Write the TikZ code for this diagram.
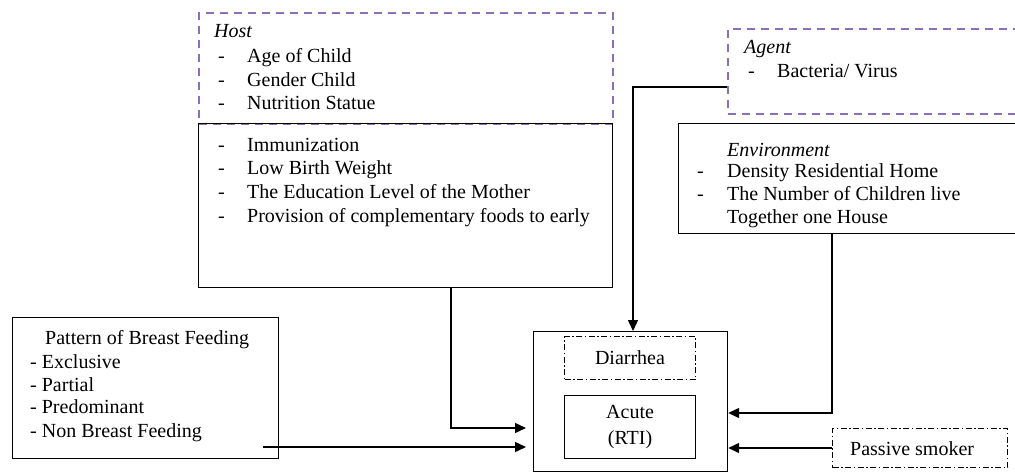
\documentclass[tikz,border=0pt]{standalone}
\usepackage{fontspec}
\setmainfont{Liberation Serif}
\usetikzlibrary{arrows.meta}
\definecolor{lav}{RGB}{140,110,185}
\begin{document}
\begin{tikzpicture}[x=1pt,y=-1pt,
 box/.style={draw,line width=1.2pt,inner sep=0,anchor=north west},
 pbox/.style={draw=lav,line width=1.5pt,dash pattern=on 8pt off 6pt,inner sep=0,anchor=north west},
 dbox/.style={draw,line width=1pt,dash pattern=on 6pt off 2.5pt on 1.5pt off 2.5pt,inner sep=0,anchor=north west},
 txt/.style={anchor=base west,inner sep=0,font=\fontsize{20}{24}\selectfont},
 ctxt/.style={inner sep=0,align=center,font=\fontsize{20}{26}\selectfont},
 arr/.style={line width=1.4pt,-{Triangle[length=11pt,width=10pt]}}]
\clip (0,0) rectangle (1015,472);
% boxes
\node[pbox,minimum width=414pt,minimum height=111pt] (hosta) at (198,12) {};
\node[box,minimum width=414pt,minimum height=164pt] (hostb) at (198,123) {};
\node[pbox,minimum width=300pt,minimum height=85pt] (agent) at (727,28) {};
\node[box,minimum width=350pt,minimum height=110pt] (env) at (678,123) {};
\node[box,minimum width=194pt,minimum height=140pt] (main) at (533,331) {};
\node[dbox,minimum width=131pt,minimum height=43pt] (diar) at (564,336) {};
\node[box,minimum width=131pt,minimum height=63pt] (acute) at (564,395) {};
\node[dbox,minimum width=175pt,minimum height=39pt] (ps) at (832,428) {};
\node[box,minimum width=266pt,minimum height=141pt] (bf) at (12,317) {};
% host texts
\node[txt] (th) at (214,37) {\itshape Host};
\node[txt] (th1d) at (218,62) {-};
\node[txt] (th1) at (247,62) {Age of Child};
\node[txt] (th2d) at (218,86) {-};
\node[txt] (th2) at (247,86) {Gender Child};
\node[txt] (th3d) at (218,109) {-};
\node[txt] (th3) at (247,109) {Nutrition Statue};
\node[txt] (th4d) at (218,151) {-};
\node[txt] (th4) at (247,151) {Immunization};
\node[txt] (th5d) at (218,174) {-};
\node[txt] (th5) at (247,174) {Low Birth Weight};
\node[txt] (th6d) at (218,198) {-};
\node[txt] (th6) at (247,198) {The Education Level of the Mother};
\node[txt] (th7d) at (218,222) {-};
\node[txt] (th7) at (247,222) {Provision of complementary foods to early};
% agent
\node[txt] (ta) at (744,53) {\itshape Agent};
\node[txt] (ta1d) at (748,77) {-};
\node[txt] (ta1) at (777,77) {Bacteria/ Virus};
% environment
\node[txt] (te) at (727,156) {\itshape Environment};
\node[txt] (te1d) at (697,177) {-};
\node[txt] (te1) at (727,177) {Density Residential Home};
\node[txt] (te2d) at (697,200) {-};
\node[txt] (te2) at (727,200) {The Number of Children live};
\node[txt] (te3) at (727,223) {Together one House};
% breast feeding
\node[txt] (tb) at (45,344) {Pattern of Breast Feeding};
\node[txt] (tb1) at (30,368) {-\ Exclusive};
\node[txt] (tb2) at (30,391) {-\ Partial};
\node[txt] (tb3) at (30,413) {-\ Predominant};
\node[txt] (tb4) at (30,437) {-\ Non Breast Feeding};
% outcome texts
\node[ctxt] (td) at (diar.center) {Diarrhea};
\node[ctxt] (tac) at (acute.center) {Acute\\(RTI)};
\node[txt] (tps) at (850,455) {Passive smoker};
% connector helpers
\coordinate (hx) at (451,0);
\coordinate (hy) at (0,428);
\coordinate (bfs) at (263,447);
\coordinate (ay) at (0,87);
\coordinate (ax) at (633,0);
\coordinate (ex) at (832,0);
\coordinate (ey) at (0,413);
% connectors
\draw[arr,shorten >=7pt] (hostb.south -| hx) |- (main.west |- hy);
\draw[arr,shorten >=7pt] (bfs) -- (main.west |- bfs);
\draw[arr] (agent.west |- ay) -| (main.north -| ax);
\draw[arr] (env.south -| ex) |- (main.east |- ey);
\draw[arr] (ps.west) -- (main.east |- ps.west);
\end{tikzpicture}
\end{document}
